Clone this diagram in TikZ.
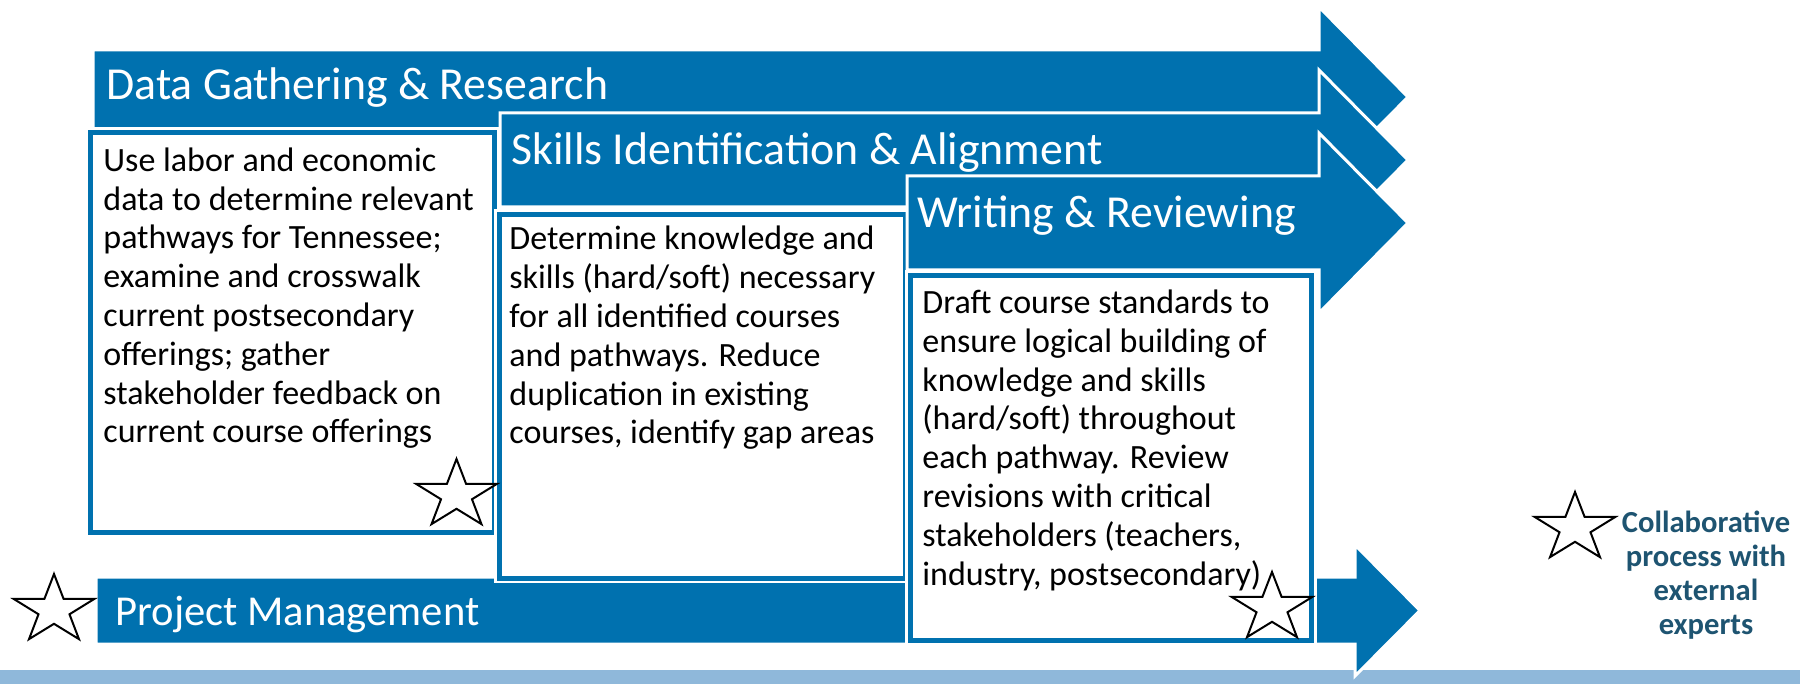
\documentclass[tikz,border=0pt]{standalone}
\usepackage{fontspec}
\setmainfont{Carlito}
\definecolor{tnblue}{RGB}{0,113,175}
\definecolor{legendblue}{RGB}{30,84,113}
\definecolor{bandblue}{RGB}{143,184,218}

\begin{document}
\begin{tikzpicture}[
    x=0.5pt, y=-0.5pt, % one unit per pixel, y pointing down
    phase arrow/.style={fill=tnblue, draw=white, line width=1.5pt, line join=miter}, % Big block arrows
    phase box/.style={fill=white, draw=tnblue, line width=2.5pt, preaction={draw=white, line width=5pt}}, % Text boxes below the arrows
    phase title/.style={anchor=base west, inner sep=0pt, text=white, font=\fontsize{22.9}{26}\selectfont}, % Arrow labels
    phase text/.style={anchor=base west, inner sep=0pt, align=left, font=\fontsize{17}{19.4}\selectfont}, % Box texts, anchored at the last line
    legend text/.style={anchor=base, inner sep=0pt, align=center, text=legendblue, font=\bfseries\fontsize{15.3}{17}\selectfont},
    star line/.style={draw=black, fill=white, line width=1pt, line join=miter, xscale=1.18}, % Outline of the star marks
    collab star/.pic={
      \draw[star line] (-90:36) \foreach \k in {1,...,9} { -- ({-90+36*\k}:{ifthenelse(isodd(\k),13.8,36)}) } -- cycle;
    }
  ]

  \useasboundingbox (0,0) rectangle (1800,684); % Same size as the slide region

  % --- Band along the bottom ---
  \fill[bandblue] (0,670) rectangle (1800,684);

  % --- Project Management arrow (lies under the boxes) ---
  \draw[phase arrow] (96,577) -- (1355,577) -- (1355,545) -- (1420,610.5) -- (1355,676) -- (1355,644) -- (96,644) -- cycle;

  % --- Phase arrows with their boxes, left to right ---
  \def\shafthalf{47} % Half height of an arrow shaft
  \def\headhalf{90}  % Half height of an arrow head
  \foreach \al/\yc/\bl/\bt/\br/\bb in {93/97/90.5/132.5/494.5/532.5, 500/160/499/214.5/905.5/578, 907/223/910/275.5/1311.5/640} {
      \draw[phase arrow] (\al,\yc-\shafthalf) -- (1319,\yc-\shafthalf) -- (1319,\yc-\headhalf) -- (1408,\yc)
        -- (1319,\yc+\headhalf) -- (1319,\yc+\shafthalf) -- (\al,\yc+\shafthalf) -- cycle;
      \draw[phase box] (\bl,\bt) rectangle (\br,\bb);
  }

  % --- Arrow labels ---
  \node[phase title] (DG_title) at (106,100) {Data Gathering \& Research};
  \node[phase title] (SI_title) at (511,165) {Skills Identification \& Alignment};
  \node[phase title] (WR_title) at (917,228) {Writing \& Reviewing};
  \node[phase title, font=\fontsize{21.3}{26}\selectfont] (PM_title) at (115,625) {Project Management};

  % --- Box texts (placed at the baseline of their last line) ---
  \node[phase text] (DG_text) at (103,443) {Use labor and economic\\data to determine relevant\\pathways for Tennessee;\\examine and crosswalk\\current postsecondary\\offerings; gather\\stakeholder feedback on\\current course offerings};
  \node[phase text] (SI_text) at (509,444) {Determine knowledge and\\skills (hard/soft) necessary\\for all identified courses\\and pathways. Reduce\\duplication in existing\\courses, identify gap areas};
  \node[phase text] (WR_text) at (922,585) {Draft course standards to\\ensure logical building of\\knowledge and skills\\(hard/soft) throughout\\each pathway. Review\\revisions with critical\\stakeholders (teachers,\\industry, postsecondary)};

  % --- Stars marking collaborative steps ---
  \pic (PM_star) at (54,610) {collab star};
  \pic (DG_star) at (456.5,495) {collab star};
  \pic (WR_star) at (1272,608) {collab star};

  % --- Legend ---
  \pic (legend_star) at (1575,528) {collab star};
  \node[legend text] (legend_text) at (1706,634) {Collaborative\\process with\\external\\experts};

\end{tikzpicture}
\end{document}
